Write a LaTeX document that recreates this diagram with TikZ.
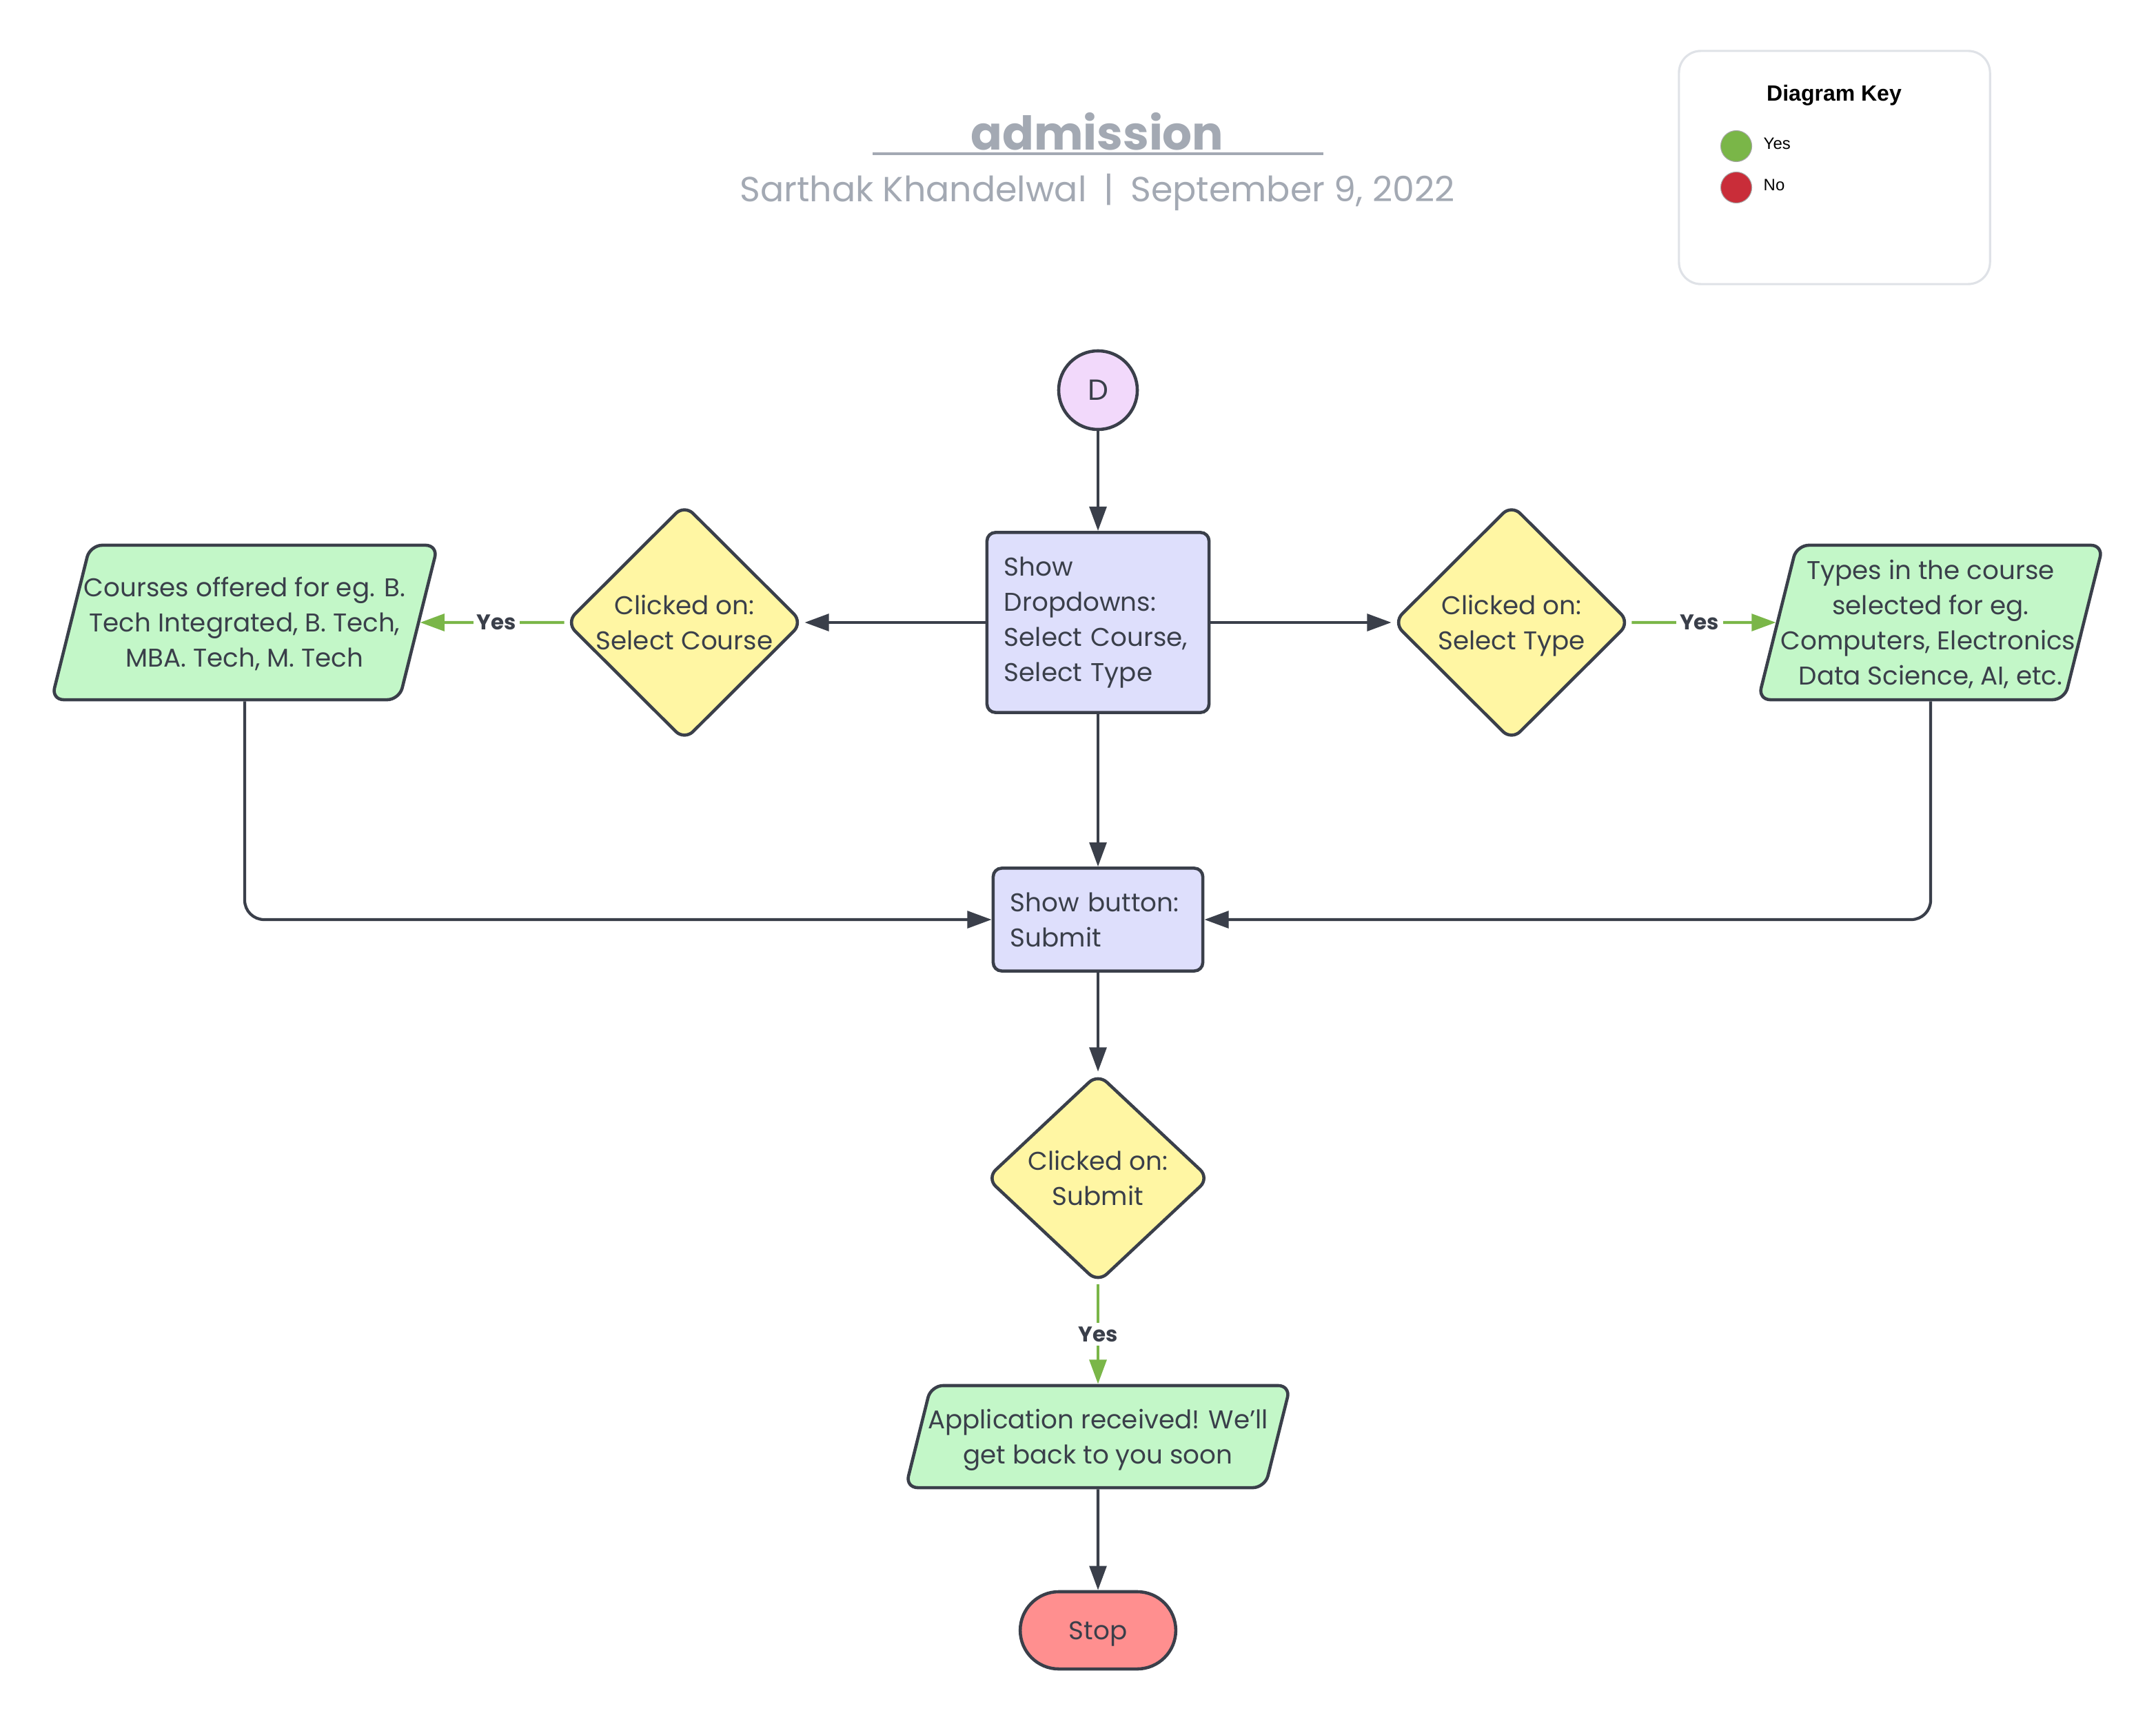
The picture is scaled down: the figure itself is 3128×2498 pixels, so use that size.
\documentclass[tikz,border=0pt]{standalone}
\usepackage{fontspec}
\setmainfont{Poppins}
\newfontfamily\keyfont{Liberation Sans}
\usetikzlibrary{shapes.geometric,shapes.misc,arrows.meta}
\definecolor{ink}{HTML}{3A3F4A}
\definecolor{titlegray}{HTML}{A3A9B3}
\definecolor{keyline}{HTML}{DFE2E7}
\definecolor{startfill}{HTML}{F2D9FB}
\definecolor{boxfill}{HTML}{DEDFFC}
\definecolor{decfill}{HTML}{FFF6A3}
\definecolor{iofill}{HTML}{C3F7C8}
\definecolor{stopfill}{HTML}{FF8F8F}
\definecolor{yesgreen}{HTML}{7AB648}
\definecolor{nored}{HTML}{C92D39}

\begin{document}
\begin{tikzpicture}[x=0.01cm,y=-0.01cm,
    >={Triangle[length=10pt,width=7pt]},
    every node/.style={text=ink},
    body/.style={font=\fontsize{10.6}{14.5}\selectfont},
    proc/.style={draw=ink,line width=1.3pt,fill=boxfill,rounded corners=3.5pt,body,align=left,inner xsep=0.25cm},
    decision/.style={diamond,draw=ink,line width=1.3pt,fill=decfill,rounded corners=5pt,inner sep=1pt},
    io/.style={trapezium,trapezium left angle=76,trapezium right angle=104,trapezium stretches body=true,
        draw=ink,line width=1.3pt,fill=iofill,rounded corners=5pt,inner sep=0pt,text depth=0pt},
    inner text/.style={body,align=center,inner sep=0pt,execute at end node=\strut,yshift=-2.1pt},
    flow/.style={->,draw=ink,line width=1.2pt},
    yesflow/.style={->,draw=yesgreen,line width=1.2pt},
    yes/.style={font=\bfseries\fontsize{8.8}{10}\selectfont,fill=white,inner sep=1.5pt},
    keydot/.style={circle,draw=black!35,line width=0.3pt,minimum size=0.45cm,inner sep=0pt}]
    \useasboundingbox (0,0) rectangle (3128,2498);

    % title
    \node[font=\bfseries\fontsize{19.2}{22}\selectfont,text=titlegray,anchor=base] (title) at (1592,218) {admission};
    \draw[titlegray,line width=1.1pt] (1266,223) -- (1920,223);
    \node[font=\fontsize{14.4}{17}\selectfont,text=titlegray,anchor=base] (subtitle) at (1592,293)
        {Sarthak Khandelwal\hspace{7pt}|\hspace{7pt}September 9, 2022};

    % key
    \node[draw=keyline,line width=0.9pt,rounded corners=9pt,minimum width=4.51cm,minimum height=3.38cm] (key) at (2661.5,243) {};
    \node[font=\keyfont\bfseries\fontsize{9.1}{10}\selectfont,text=black,anchor=base] (keytitle) at (2661,147) {Diagram Key};
    \node[keydot,fill=yesgreen] (yesdot) at (2519,212) {};
    \node[keydot,fill=nored] (nodot) at (2519,272) {};
    \node[font=\keyfont\fontsize{6.8}{8}\selectfont,text=black,anchor=base west,inner sep=0pt] (yeskey) at (2558,217) {Yes};
    \node[font=\keyfont\fontsize{6.8}{8}\selectfont,text=black,anchor=base west,inner sep=0pt] (nokey) at (2558,277) {No};

    % shapes
    \node[circle,draw=ink,line width=1.3pt,fill=startfill,minimum size=1.14cm,inner sep=0pt,font=\fontsize{12}{14}\selectfont] (start) at (1593,566) {D};
    \node[proc,minimum width=3.22cm,minimum height=2.61cm,text width=2.72cm] (dropdowns) at (1593,903)
        {Show\\Dropdowns:\\Select Course,\\Select Type};
    \node[decision,minimum width=3.44cm,minimum height=3.43cm] (pickcourse) at (993,903) {};
    \node[inner text] (pickcoursetxt) at (pickcourse) {Clicked on:\\Select Course};
    \node[decision,minimum width=3.44cm,minimum height=3.43cm] (picktype) at (2193,903) {};
    \node[inner text] (picktypetxt) at (picktype) {Clicked on:\\Select Type};
    \node[io,minimum width=5.60cm,text height=2.24cm] (courses) at (355,903) {};
    \node[inner text] (coursestxt) at (courses) {Courses offered for eg. B.\\Tech Integrated, B. Tech,\\MBA. Tech, M. Tech};
    \node[io,minimum width=5.00cm,text height=2.24cm] (types) at (2801,903) {};
    \node[inner text] (typestxt) at (types) {Types in the course\\selected for eg.\\Computers, Electronics,\\Data Science, AI, etc.};
    \node[proc,minimum width=3.02cm,minimum height=1.49cm,text width=2.54cm] (button) at (1593,1334) {Show button:\\Submit};
    \node[decision,minimum width=3.24cm,minimum height=3.04cm] (submit) at (1593,1709) {};
    \node[inner text] (submittxt) at (submit) {Clicked on:\\Submit};
    \node[io,minimum width=5.58cm,text height=1.48cm] (received) at (1593,2084) {};
    \node[inner text] (receivedtxt) at (received) {Application received! We'll\\get back to you soon};
    \node[rounded rectangle,draw=ink,line width=1.3pt,fill=stopfill,minimum width=2.49cm,minimum height=1.12cm,body,text depth=0pt] (stop) at (1593,2365) {Stop};

    % connectors
    \draw[flow] (start) -- (dropdowns);
    \draw[flow] (dropdowns) -- (pickcourse);
    \draw[flow] (dropdowns) -- (picktype);
    \draw[flow] (dropdowns) -- (button);
    \draw[yesflow] (pickcourse) -- node[yes,pos=0.47] {Yes} (courses);
    \draw[yesflow] (picktype) -- node[yes,pos=0.47] {Yes} (types);
    \draw[flow,rounded corners=8pt] (courses.center |- courses.south) |- (button.west);
    \draw[flow,rounded corners=8pt] (types.center |- types.south) |- (button.east);
    \draw[flow] (button) -- (submit);
    \draw[yesflow] (submit) -- node[yes] {Yes} (received);
    \draw[flow] (received) -- (stop);
\end{tikzpicture}
\end{document}
